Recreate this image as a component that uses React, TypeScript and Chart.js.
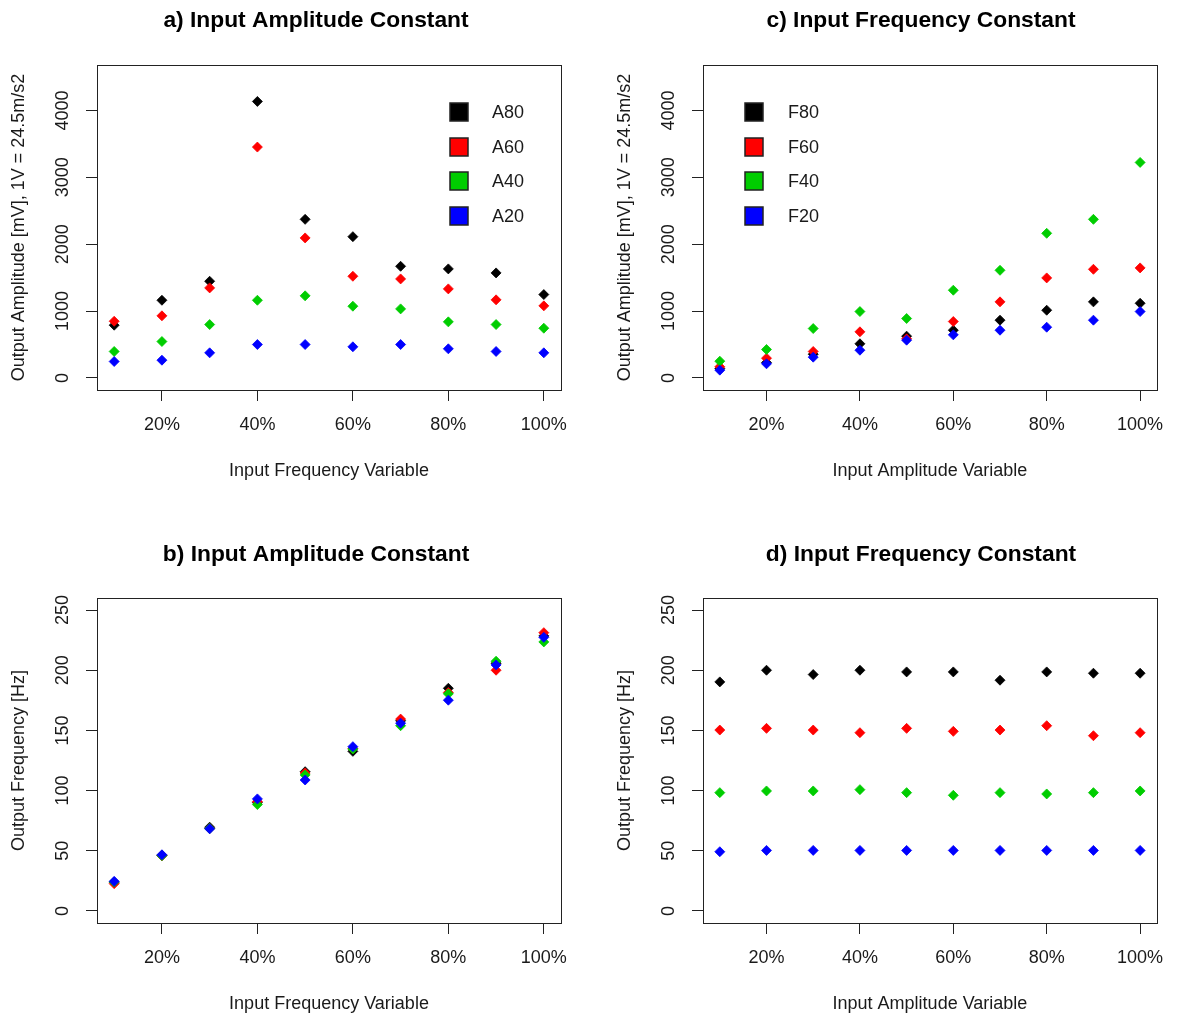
import React, { useEffect, useRef } from 'react';
import { Chart, registerables } from 'chart.js';

Chart.register(...registerables);

// Input level on the x axis (percent of full scale)
const inputLevels = [10, 20, 30, 40, 50, 60, 70, 80, 90, 100];
const percentTicks = [20, 40, 60, 80, 100];
const percentTickLabels = ['20%', '40%', '60%', '80%', '100%'];
const amplitudeTicks = [0, 1000, 2000, 3000, 4000];
const frequencyTicks = [0, 50, 100, 150, 200, 250];

const seriesColors = ['#000000', '#FF0000', '#00CD00', '#0000FF'];
const ampSeriesNames = ['A80', 'A60', 'A40', 'A20'];
const freqSeriesNames = ['F80', 'F60', 'F40', 'F20'];

// a) output amplitude [mV] with input amplitude held constant
const ampConstA80 = [789, 1162, 1446, 4135, 2372, 2113, 1670, 1631, 1571, 1247];
const ampConstA60 = [848, 929, 1347, 3453, 2094, 1521, 1481, 1332, 1168, 1078];
const ampConstA40 = [396, 545, 799, 1162, 1228, 1073, 1033, 839, 799, 744];
const ampConstA20 = [246, 266, 376, 500, 500, 466, 500, 436, 396, 376];

// c) output amplitude [mV] with input frequency held constant
const freqConstF80 = [140, 230, 355, 511, 625, 714, 864, 1013, 1138, 1117];
const freqConstF60 = [167, 296, 396, 690, 585, 844, 1138, 1496, 1625, 1646];
const freqConstF40 = [251, 426, 739, 993, 889, 1312, 1610, 2163, 2372, 3223];
const freqConstF20 = [117, 212, 311, 415, 565, 645, 714, 759, 864, 993];

// b) output frequency [Hz] with input amplitude held constant
const ampFreqA80 = [24, 46, 69.6, 90, 115.7, 132.6, 158, 185, 205.8, 228.5];
const ampFreqA60 = [22.7, 46, 68.5, 90.9, 114.6, 135, 159.4, 181.5, 200, 231.2];
const ampFreqA40 = [24, 46, 68.5, 88.4, 113, 134.5, 153.9, 180.4, 207.5, 223.5];
const ampFreqA20 = [24.6, 46.7, 68.2, 93.1, 108.8, 136.5, 156, 175.1, 204.4, 227.3];

// d) output frequency [Hz] with input frequency held constant
const freqFreqF80 = [190.3, 200, 196.4, 200, 198.6, 198.6, 191.7, 198.6, 197.5, 197.5];
const freqFreqF60 = [150.3, 151.7, 150.3, 148.1, 151.7, 149.2, 150.3, 153.9, 145.6, 148.1];
const freqFreqF40 = [98.3, 99.7, 99.7, 100.8, 98.3, 96.1, 98.3, 97.2, 98.3, 99.7];
const freqFreqF20 = [49.2, 50.3, 50.3, 50.3, 50.3, 50.3, 50.3, 50.3, 50.3, 50.3];

const PAGE_W = 1177;
const PAGE_H = 1019;
const FONT = '"Liberation Sans", Arial, Helvetica, sans-serif';
const INK = '#1a1a1a';
const Y_AXIS_W = 90;
const X_AXIS_H = 95;

type Panel = {
  title: string;
  titleX: number;
  titleY: number;
  box: [number, number, number, number];
  xTitle: string;
  yTitle: string;
  yMin: number;
  yMax: number;
  yTicks: number[];
  names: string[];
  series: number[][];
  legend: null | { boxX: number; textX: number; rows: number[] };
};

const panels: Panel[] = [
  {
    title: 'a) Input Amplitude Constant', titleX: 316, titleY: 21,
    box: [97, 65, 561, 390],
    xTitle: 'Input Frequency Variable', yTitle: 'Output Amplitude [mV], 1V = 24.5m/s2',
    yMin: -180, yMax: 4680, yTicks: amplitudeTicks,
    names: ampSeriesNames, series: [ampConstA80, ampConstA60, ampConstA40, ampConstA20],
    legend: { boxX: 459, textX: 492, rows: [112, 147, 181, 216] },
  },
  {
    title: 'c) Input Frequency Constant', titleX: 921, titleY: 21,
    box: [703, 65, 1167, 390],
    xTitle: 'Input Amplitude Variable', yTitle: 'Output Amplitude [mV], 1V = 24.5m/s2',
    yMin: -180, yMax: 4680, yTicks: amplitudeTicks,
    names: freqSeriesNames, series: [freqConstF80, freqConstF60, freqConstF40, freqConstF20],
    legend: { boxX: 754, textX: 788, rows: [112, 147, 181, 216] },
  },
  {
    title: 'b) Input Amplitude Constant', titleX: 316, titleY: 555,
    box: [97, 598, 561, 923],
    xTitle: 'Input Frequency Variable', yTitle: 'Output Frequency [Hz]',
    yMin: -10, yMax: 260, yTicks: frequencyTicks,
    names: ampSeriesNames, series: [ampFreqA80, ampFreqA60, ampFreqA40, ampFreqA20],
    legend: null,
  },
  {
    title: 'd) Input Frequency Constant', titleX: 921, titleY: 555,
    box: [703, 598, 1167, 923],
    xTitle: 'Input Amplitude Variable', yTitle: 'Output Frequency [Hz]',
    yMin: -10, yMax: 260, yTicks: frequencyTicks,
    names: freqSeriesNames, series: [freqFreqF80, freqFreqF60, freqFreqF40, freqFreqF20],
    legend: null,
  },
];

// Box, rotated y labels, main title and legend in base-graphics style
const panelDecor = {
  id: 'panelDecor',
  afterDraw(chart: any, _args: any, opts: any) {
    const { ctx, chartArea } = chart;
    const { left, top, right, bottom } = chartArea;
    ctx.save();

    // plot frame
    ctx.strokeStyle = '#222';
    ctx.lineWidth = 1;
    ctx.strokeRect(Math.round(left) + 0.5, Math.round(top) + 0.5,
      Math.round(right - left), Math.round(bottom - top));

    // y tick labels, parallel to the axis
    const yScale = chart.scales.y;
    ctx.fillStyle = INK;
    ctx.font = `18px ${FONT}`;
    ctx.textAlign = 'center';
    ctx.textBaseline = 'middle';
    yScale.ticks.forEach((t: any) => {
      const py = yScale.getPixelForValue(t.value);
      ctx.save();
      ctx.translate(left - 34, py);
      ctx.rotate(-Math.PI / 2);
      ctx.fillText(String(t.value), 0, 0);
      ctx.restore();
    });

    // main title
    ctx.font = `bold 22.8px ${FONT}`;
    ctx.fillStyle = '#000';
    ctx.textAlign = 'center';
    ctx.fillText(opts.title, opts.titleX, opts.titleY);

    // legend
    if (opts.legend) {
      const lg = opts.legend;
      const size = 18;
      chart.data.datasets.forEach((ds: any, i: number) => {
        const cy = lg.rows[i];
        ctx.fillStyle = ds.backgroundColor;
        ctx.fillRect(lg.boxX - size / 2, cy - size / 2, size, size);
        ctx.strokeStyle = '#222';
        ctx.lineWidth = 1.5;
        ctx.strokeRect(lg.boxX - size / 2, cy - size / 2, size, size);
        ctx.fillStyle = INK;
        ctx.font = `18px ${FONT}`;
        ctx.textAlign = 'left';
        ctx.textBaseline = 'middle';
        ctx.fillText(ds.label, lg.textX, cy + 1);
      });
    }
    ctx.restore();
  },
};

function buildConfig(p: Panel): any {
  const [L, T, R, B] = p.box;
  const axisFont = { family: FONT, size: 18 };
  const tickGrid = {
    display: true, drawOnChartArea: false, drawTicks: true,
    tickLength: 11, color: '#222', lineWidth: 1,
  };
  return {
    type: 'scatter',
    data: {
      datasets: p.series.map((vals, i) => ({
        label: p.names[i],
        data: inputLevels.map((x, j) => ({ x, y: vals[j] })),
        backgroundColor: seriesColors[i],
        borderColor: seriesColors[i],
        pointStyle: 'rectRot',
        pointRadius: 5,
        borderWidth: 0.8,
        order: p.series.length - i,
      })),
    },
    options: {
      responsive: false,
      animation: false,
      events: [],
      layout: {
        padding: { left: L - Y_AXIS_W, top: T, right: PAGE_W - R, bottom: PAGE_H - B - X_AXIS_H },
      },
      plugins: {
        legend: { display: false },
        tooltip: { enabled: false },
        title: { display: false },
        panelDecor: { title: p.title, titleX: p.titleX, titleY: p.titleY, legend: p.legend },
      },
      scales: {
        x: {
          type: 'linear',
          bounds: 'data',
          min: 6.4,
          max: 103.6,
          afterBuildTicks: (s: any) => { s.ticks = percentTicks.map((v) => ({ value: v })); },
          afterFit: (s: any) => { s.height = X_AXIS_H; },
          grid: tickGrid,
          border: { display: false },
          ticks: {
            autoSkip: false, maxRotation: 0, minRotation: 0, padding: 13.5,
            color: INK, font: axisFont,
            callback: (_v: any, idx: number) => percentTickLabels[idx],
          },
          title: {
            display: true, text: p.xTitle, color: INK, font: axisFont,
            padding: { top: 0, bottom: 3.5 },
          },
        },
        y: {
          type: 'linear',
          bounds: 'data',
          min: p.yMin,
          max: p.yMax,
          afterBuildTicks: (s: any) => { s.ticks = p.yTicks.map((v) => ({ value: v })); },
          afterFit: (s: any) => { s.width = Y_AXIS_W; },
          grid: tickGrid,
          border: { display: false },
          ticks: { display: false },
          title: {
            display: true, text: p.yTitle, color: INK, font: axisFont,
            padding: { top: 1.2, bottom: 0 },
          },
        },
      },
    },
    plugins: [panelDecor],
  };
}

function PanelChart({ panel }: { panel: Panel }) {
  const ref = useRef<HTMLCanvasElement | null>(null);
  useEffect(() => {
    if (!ref.current) return;
    const chart = new Chart(ref.current, buildConfig(panel));
    return () => chart.destroy();
  }, [panel]);
  return (
    <canvas
      ref={ref}
      width={PAGE_W}
      height={PAGE_H}
      style={{ position: 'absolute', left: 0, top: 0, width: PAGE_W, height: PAGE_H }}
    />
  );
}

export default function App() {
  return (
    <div
      style={{
        position: 'absolute', left: 0, top: 0, width: PAGE_W, height: PAGE_H,
        background: '#ffffff', overflow: 'hidden',
      }}
    >
      {panels.map((p) => (
        <PanelChart key={p.title} panel={p} />
      ))}
    </div>
  );
}
